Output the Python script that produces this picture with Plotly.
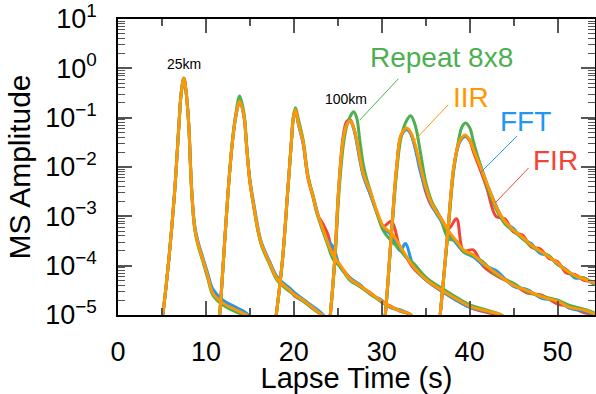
import plotly.graph_objects as go

# ---- data (lapse time in s, log10 of MS amplitude) ----
t25 = [4.8, 5.1, 5.78, 6.43, 6.92, 7.19, 7.49, 7.76, 8.06, 8.22, 8.40, 8.71, 9.09, 9.66, 10.23, 10.8, 11.94, 13.47, 14.6, 15.2]
iir_25 = [-5.4, -5.0, -3.88, -2.53, -1.18, -0.50, -0.20, -0.50, -1.18, -1.86, -2.53, -3.21, -3.55, -3.88, -4.22, -4.56, -4.76, -4.90, -5.0, -5.1]
fir_25 = [-5.4, -5.0, -3.88, -2.53, -1.18, -0.50, -0.20, -0.50, -1.18, -1.86, -2.53, -3.21, -3.55, -3.88, -4.22, -4.54, -4.76, -4.91, -5.0, -5.1]
fft_25 = [-5.4, -5.0, -3.88, -2.53, -1.18, -0.50, -0.20, -0.50, -1.17, -1.84, -2.50, -3.17, -3.50, -3.84, -4.17, -4.48, -4.70, -4.85, -4.96, -5.1]
rep_25 = [-5.4, -5.0, -3.88, -2.53, -1.18, -0.50, -0.20, -0.50, -1.19, -1.88, -2.56, -3.24, -3.58, -3.92, -4.27, -4.60, -4.80, -4.94, -5.02, -5.1]

t50 = [11.3, 11.56, 12.0, 12.51, 13.0, 13.39, 13.84, 14.34, 14.6, 14.98, 15.5, 15.93, 16.3, 17.26, 18.2, 19.5, 20.1, 21.06, 22.2, 23.2, 23.8]
iir_50 = [-5.4, -5.0, -3.88, -2.53, -1.52, -0.98, -0.67, -0.98, -1.52, -2.26, -2.85, -3.28, -3.55, -3.95, -4.29, -4.49, -4.59, -4.70, -4.86, -5.0, -5.1]
fir_50 = [-5.4, -5.0, -3.88, -2.53, -1.52, -0.98, -0.66, -0.98, -1.53, -2.28, -2.87, -3.30, -3.56, -3.96, -4.30, -4.46, -4.62, -4.71, -4.87, -5.0, -5.1]
fft_50 = [-5.4, -5.0, -3.88, -2.53, -1.53, -0.99, -0.68, -0.99, -1.50, -2.22, -2.80, -3.24, -3.52, -3.92, -4.25, -4.45, -4.55, -4.68, -4.83, -4.97, -5.1]
rep_50 = [-5.4, -5.0, -3.88, -2.53, -1.48, -0.93, -0.56, -0.92, -1.48, -2.25, -2.86, -3.30, -3.58, -3.98, -4.32, -4.52, -4.60, -4.72, -4.88, -5.0, -5.1]

t75 = [17.7, 18.0, 18.7, 19.3, 19.74, 19.95, 20.19, 20.5, 21.06, 21.6, 22.2, 22.7, 23.3, 23.9, 24.5, 25.25, 26.4, 27.5, 28.7, 30.0, 31.0, 32.2, 33.2, 33.8]
iir_75 = [-5.4, -5.0, -3.9, -2.5, -1.45, -1.0, -0.84, -1.1, -1.5, -2.2, -2.6, -2.95, -3.25, -3.55, -3.8, -3.98, -4.27, -4.4, -4.56, -4.72, -4.83, -4.92, -4.98, -5.1]
fir_75 = [-5.4, -5.0, -3.9, -2.5, -1.45, -1.0, -0.84, -1.1, -1.52, -2.22, -2.62, -2.97, -3.15, -3.38, -3.82, -4.0, -4.25, -4.42, -4.55, -4.74, -4.82, -4.93, -4.98, -5.1]
fft_75 = [-5.4, -5.0, -3.9, -2.5, -1.46, -1.01, -0.85, -1.12, -1.52, -2.2, -2.58, -2.93, -3.28, -3.5, -3.62, -4.02, -4.25, -4.38, -4.58, -4.7, -4.85, -4.9, -4.99, -5.1]
rep_75 = [-5.4, -5.0, -3.92, -2.52, -1.44, -0.97, -0.80, -1.02, -1.45, -2.15, -2.62, -2.98, -3.3, -3.6, -3.88, -4.02, -4.3, -4.42, -4.58, -4.73, -4.84, -4.92, -4.99, -5.1]

t100 = [23.9, 24.15, 24.67, 25.1, 25.6, 26.0, 26.4, 26.8, 27.15, 27.5, 27.9, 28.3, 28.7, 29.4, 30.2, 31.1, 32.1, 32.7, 33.6, 35.1, 37.4, 40.1, 42.0, 43.6, 44.2]
iir_100 = [-5.4, -5.0, -3.82, -2.46, -1.45, -1.15, -1.06, -1.2, -1.45, -1.79, -2.13, -2.33, -2.5, -2.87, -3.21, -3.34, -3.61, -3.78, -4.02, -4.29, -4.56, -4.83, -4.92, -5.0, -5.1]
fir_100 = [-5.4, -5.0, -3.82, -2.44, -1.4, -1.08, -1.04, -1.2, -1.47, -1.82, -2.15, -2.36, -2.55, -2.9, -3.2, -3.1, -3.66, -3.8, -4.05, -4.3, -4.58, -4.85, -4.95, -5.02, -5.1]
fft_100 = [-5.4, -5.0, -3.84, -2.48, -1.47, -1.14, -1.07, -1.22, -1.5, -1.85, -2.18, -2.38, -2.55, -2.9, -3.24, -3.38, -3.7, -3.55, -4.0, -4.3, -4.58, -4.85, -4.93, -5.0, -5.1]
rep_100 = [-5.4, -5.0, -3.92, -2.62, -1.6, -1.18, -0.98, -0.88, -1.0, -1.45, -1.95, -2.25, -2.48, -2.9, -3.3, -3.5, -3.68, -3.82, -3.95, -4.25, -4.52, -4.8, -4.9, -5.0, -5.1]

t125 = [30.1, 30.4, 31.1, 31.7, 32.2, 32.85, 33.3, 33.8, 34.4, 35.0, 35.7, 36.6, 37.6, 38.5, 39.3, 40.4, 41.5, 43.0, 45.0, 46.5, 48.2, 50.0, 51.3, 53.0, 54.1, 55.0]
iir_125 = [-5.4, -5.0, -3.34, -1.99, -1.35, -1.21, -1.3, -1.55, -1.99, -2.4, -2.75, -3.01, -3.3, -3.5, -3.68, -3.78, -3.95, -4.15, -4.4, -4.5, -4.63, -4.72, -4.84, -4.9, -4.97, -5.05]
fir_125 = [-5.4, -5.0, -3.34, -2.0, -1.36, -1.23, -1.32, -1.6, -2.05, -2.5, -2.8, -3.0, -3.25, -3.05, -3.7, -3.68, -4.0, -4.2, -4.38, -4.55, -4.6, -4.78, -4.82, -4.95, -5.0, -5.05]
fft_125 = [-5.4, -5.0, -3.36, -2.02, -1.38, -1.24, -1.33, -1.62, -2.1, -2.45, -2.78, -3.05, -3.35, -3.55, -3.72, -3.82, -3.98, -4.1, -4.42, -4.48, -4.66, -4.7, -4.86, -4.92, -5.0, -5.05]
rep_125 = [-5.4, -5.0, -3.4, -2.1, -1.4, -1.05, -0.96, -1.15, -1.7, -2.3, -2.7, -3.0, -3.45, -3.5, -3.72, -3.8, -3.92, -4.18, -4.36, -4.52, -4.62, -4.7, -4.8, -4.88, -4.95, -5.05]

t150 = [36.4, 36.65, 37.5, 38.2, 38.75, 39.1, 39.5, 40.0, 40.45, 41.2, 42.0, 43.0, 44.0, 45.0, 46.0, 47.0, 48.0, 49.0, 50.0, 51.0, 52.0, 53.0, 54.2, 55.0]
iir_150 = [-5.4, -5.0, -3.34, -1.99, -1.52, -1.4, -1.35, -1.45, -1.65, -1.99, -2.35, -2.8, -3.1, -3.28, -3.42, -3.58, -3.7, -3.82, -3.95, -4.1, -4.2, -4.27, -4.35, -4.4]
fir_150 = [-5.4, -5.0, -3.34, -2.0, -1.53, -1.42, -1.37, -1.47, -1.7, -2.05, -2.45, -3.0, -3.05, -3.32, -3.38, -3.62, -3.66, -3.85, -3.92, -4.15, -4.18, -4.3, -4.33, -4.4]
fft_150 = [-5.4, -5.0, -3.36, -2.02, -1.55, -1.43, -1.38, -1.45, -1.62, -1.95, -2.35, -2.78, -3.12, -3.25, -3.45, -3.55, -3.75, -3.8, -3.98, -4.08, -4.25, -4.25, -4.38, -4.42]
rep_150 = [-5.4, -5.0, -3.4, -2.05, -1.45, -1.2, -1.11, -1.2, -1.5, -1.95, -2.4, -2.85, -3.15, -3.3, -3.45, -3.6, -3.72, -3.8, -3.97, -4.08, -4.22, -4.25, -4.36, -4.4]

times = [t25, t50, t75, t100, t125, t150]
fir = [fir_25, fir_50, fir_75, fir_100, fir_125, fir_150]
fft = [fft_25, fft_50, fft_75, fft_100, fft_125, fft_150]
rep = [rep_25, rep_50, rep_75, rep_100, rep_125, rep_150]
iir = [iir_25, iir_50, iir_75, iir_100, iir_125, iir_150]

method_names = ["FIR", "FFT", "Repeat 8x8", "IIR"]
method_colors = ["#F44336", "#2196F3", "#4CAF50", "#FF9800"]
method_data = [fir, fft, rep, iir]

# label text positions (t, log10 amp) and leader lines
label_pos = {"Repeat 8x8": (36.8, 0.22), "IIR": (40.2, -0.60), "FFT": (46.3, -1.07), "FIR": (49.8, -1.87)}
leader_t = {"Repeat 8x8": [31.9, 27.5], "IIR": [37.55, 33.8], "FFT": [45.4, 41.2], "FIR": [46.7, 42.9]}
leader_log = {"Repeat 8x8": [-0.21, -1.05], "IIR": [-0.74, -1.45], "FFT": [-1.37, -2.12], "FIR": [-2.02, -2.73]}
dist_labels = ["25km", "100km"]
dist_pos = [(7.46, 0.09), (25.9, -0.62)]

FONT = "Arial, Liberation Sans, sans-serif"

fig = go.Figure()
for name, color, data in zip(method_names, method_colors, method_data):
    for t, lg in zip(times, data):
        assert len(t) == len(lg)
        fig.add_trace(go.Scatter(
            x=t, y=[10 ** v for v in lg], mode="lines",
            line=dict(color=color, width=3, shape="spline", smoothing=1.0),
            showlegend=False, hoverinfo="skip"))

for name, color in zip(method_names, method_colors):
    fig.add_trace(go.Scatter(
        x=leader_t[name], y=[10 ** v for v in leader_log[name]], mode="lines",
        line=dict(color=color, width=1), showlegend=False, hoverinfo="skip"))
    lx, ly = label_pos[name]
    fig.add_annotation(x=lx, y=ly, text=name, showarrow=False,
                       font=dict(family=FONT, size=28, color=color),
                       xanchor="center", yanchor="middle")

for txt, (lx, ly) in zip(dist_labels, dist_pos):
    fig.add_annotation(x=lx, y=ly, text=txt, showarrow=False,
                       font=dict(family=FONT, size=14, color="black"),
                       xanchor="center", yanchor="middle")

ytick_vals = [1e-5, 1e-4, 1e-3, 1e-2, 1e-1, 1e0, 1e1]
ytick_text = ["10<sup>\u22125</sup>", "10<sup>\u22124</sup>", "10<sup>\u22123</sup>",
              "10<sup>\u22122</sup>", "10<sup>\u22121</sup>", "10<sup>0</sup>", "10<sup>1</sup>"]
yminor = [k * 10 ** e for e in range(-5, 1) for k in range(2, 10)]

fig.update_layout(
    width=596, height=394,
    margin=dict(l=118, r=1, t=19, b=79),
    paper_bgcolor="white", plot_bgcolor="white",
    font=dict(family=FONT, color="black"),
    xaxis=dict(
        range=[0, 54.26], showline=True, linecolor="black", linewidth=1.5,
        mirror="ticks", ticks="inside", ticklen=14, tickwidth=1.5, tickcolor="#555",
        tick0=0, dtick=10, showgrid=False, zeroline=False, automargin=False,
        minor=dict(ticks="inside", ticklen=7, tickwidth=1.5, tickcolor="#555", dtick=5, showgrid=False),
        tickfont=dict(size=27), ticklabelstandoff=12,
        title=dict(text="Lapse Time (s)", font=dict(size=29), standoff=4),
    ),
    yaxis=dict(
        type="log", range=[-5, 1], showline=True, linecolor="black", linewidth=1.5,
        mirror="ticks", ticks="inside", ticklen=14, tickwidth=1.5, tickcolor="#555",
        tickmode="array", tickvals=ytick_vals, ticktext=ytick_text,
        showgrid=False, zeroline=False, automargin=False,
        minor=dict(ticks="inside", ticklen=7, tickwidth=1, tickcolor="#555",
                   tickmode="array", tickvals=yminor, showgrid=False),
        tickfont=dict(size=27), ticklabelstandoff=14,
        title=dict(text="MS Amplitude", font=dict(size=30), standoff=6),
    ),
)

fig.write_html("out.html", config={"displayModeBar": False},
               post_script="document.body.style.margin='0';document.body.style.overflow='hidden';")
